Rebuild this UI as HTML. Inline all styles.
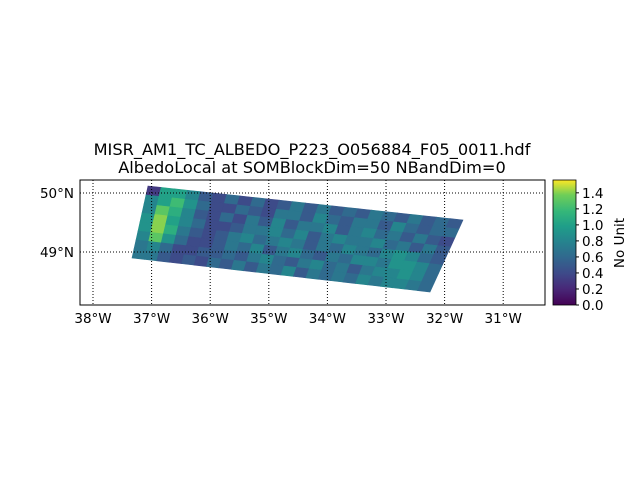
<!DOCTYPE html>
<html><head><meta charset="utf-8"><style>
body{margin:0;background:#fff}
svg text{font-family:"DejaVu Sans","Liberation Sans",sans-serif;fill:#000}
</style></head><body>
<svg width="640" height="480" viewBox="0 0 640 480">
<rect width="640" height="480" fill="#fff"/>
<text x="312" y="155" font-size="16.2" text-anchor="middle">MISR_AM1_TC_ALBEDO_P223_O056884_F05_0011.hdf</text>
<text x="312" y="173" font-size="16.2" text-anchor="middle">AlbedoLocal at SOMBlockDim=50 NBandDim=0</text>
<g id="swath"></g>
<g id="grid"></g>
<rect x="80" y="180" width="465" height="125" fill="none" stroke="#000" stroke-width="1"/>
<g id="ticks"></g>
<defs><linearGradient id="vir" x1="0" y1="1" x2="0" y2="0">
<stop offset="0" stop-color="#440154"/><stop offset="0.13" stop-color="#482878"/><stop offset="0.25" stop-color="#3e4989"/><stop offset="0.38" stop-color="#31688e"/><stop offset="0.5" stop-color="#26828e"/><stop offset="0.63" stop-color="#1f9e89"/><stop offset="0.75" stop-color="#35b779"/><stop offset="0.88" stop-color="#6ece58"/><stop offset="1" stop-color="#fde725"/></linearGradient></defs>
<rect x="553" y="180" width="23" height="125" fill="url(#vir)" stroke="#000" stroke-width="0.8"/>
<g id="cbticks"></g>
<text transform="translate(624,243) rotate(-90)" font-size="13.5" text-anchor="middle">No Unit</text>
</svg>
<script>
const lonTicks=[-38,-37,-36,-35,-34,-33,-32,-31];
const latTicks=[50,49];
const cbTicks=[0,0.2,0.4,0.6,0.8,1.0,1.2,1.4];
const cbMax=1.56;
const vals=[
[0.3,1.0,1.0,0.8,0.5,0.4,0.6,0.4,0.6,0.4,0.5,0.7,0.5,0.7,0.5,0.6,0.5,0.7,0.6,0.5,0.7,0.5,0.6,0.5],
[0.8,1.0,1.2,0.9,0.6,0.4,0.4,0.6,0.5,0.4,0.7,0.7,0.5,0.8,0.6,0.5,0.7,0.7,0.5,0.8,0.6,0.5,0.6,0.6],
[0.8,1.3,1.1,0.8,0.5,0.4,0.6,0.4,0.7,0.5,0.8,0.5,0.7,0.7,0.8,0.5,0.7,0.8,0.6,0.7,0.5,0.7,0.5,0.4],
[0.9,1.4,1.0,0.8,0.6,0.4,0.4,0.5,0.7,0.7,0.8,0.6,0.8,0.5,0.7,0.8,0.7,0.7,0.8,0.6,0.7,0.5,0.7,0.5],
[0.9,1.4,1.1,0.7,0.5,0.4,0.5,0.7,0.8,0.6,0.7,0.8,0.7,0.5,0.7,0.6,0.8,0.7,0.6,0.8,0.9,0.8,0.6,0.5],
[0.8,1.3,0.9,0.6,0.4,0.4,0.5,0.7,0.6,0.8,0.5,0.7,0.8,0.6,0.5,0.7,0.6,0.8,0.8,0.7,0.9,0.9,0.8,0.6],
[0.7,0.8,0.6,0.4,0.4,0.5,0.5,0.6,0.5,0.7,0.8,0.6,0.5,0.7,0.8,0.6,0.7,0.5,0.7,0.8,0.8,0.9,0.8,0.6],
[0.7,0.7,0.5,0.4,0.5,0.4,0.6,0.5,0.7,0.5,0.7,0.6,0.8,0.5,0.7,0.6,0.7,0.6,0.8,0.7,0.8,0.8,0.7,0.6]];
const NS='http://www.w3.org/2000/svg';
const xLon=l=>93+(l+38)*58.6;
const yLat=l=>193+(50-l)*59;
const cbY=v=>305-v/cbMax*125;
const C=[[68,1,84],[72,40,120],[62,73,137],[49,104,142],[38,130,142],[31,158,137],[53,183,121],[110,206,88],[253,231,37]];
function vir(t){t=Math.max(0,Math.min(1,t))*8;const i=Math.min(7,Math.floor(t)),f=t-i;
return 'rgb('+C[i].map((c,k)=>Math.round(c+(C[i+1][k]-c)*f)).join(',')+')';}
const TL=[148,186],TR=[463,220],BL=[132,258],BR=[430,292];
function P(u,v){const a=[TL[0]+(TR[0]-TL[0])*u,TL[1]+(TR[1]-TL[1])*u],b=[BL[0]+(BR[0]-BL[0])*u,BL[1]+(BR[1]-BL[1])*u];return [a[0]+(b[0]-a[0])*v,a[1]+(b[1]-a[1])*v];}
const sw=document.getElementById('swath');
const R=vals.length,K=vals[0].length;
vals.forEach((row,r)=>row.forEach((v,c)=>{
const p=[P(c/K,r/R),P((c+1)/K,r/R),P((c+1)/K,(r+1)/R),P(c/K,(r+1)/R)];
const e=document.createElementNS(NS,'polygon');
e.setAttribute('points',p.map(q=>q.join(',')).join(' '));
e.setAttribute('fill',vir(v/cbMax));e.setAttribute('stroke',vir(v/cbMax));e.setAttribute('stroke-width','0.6');


sw.appendChild(e);}));
const g=document.getElementById('grid'),tk=document.getElementById('ticks');
function line(par,x1,y1,x2,y2,dash){const l=document.createElementNS(NS,'line');
l.setAttribute('x1',x1);l.setAttribute('y1',y1);l.setAttribute('x2',x2);l.setAttribute('y2',y2);
l.setAttribute('stroke','#000');l.setAttribute('stroke-width','1');if(dash)l.setAttribute('stroke-dasharray','1,2');


par.appendChild(l);}
function txt(par,x,y,s,anchor,name){const t=document.createElementNS(NS,'text');
t.setAttribute('x',x);t.setAttribute('y',y);t.setAttribute('font-size','13.5');t.setAttribute('text-anchor',anchor);t.textContent=s;


par.appendChild(t);}
lonTicks.forEach(l=>{const x=xLon(l);line(g,x,180,x,305,true);txt(tk,x,323,Math.abs(l)+'°W','middle','x-tick-label');});
latTicks.forEach(l=>{const y=yLat(l);line(g,80,y,545,y,true);txt(tk,74,y+5,l+'°N','end','y-tick-label');});
const cb=document.getElementById('cbticks');
cbTicks.forEach(v=>{const y=cbY(v);line(cb,576,y,579,y,false);txt(cb,582,y+5,v.toFixed(1),'start','colorbar-tick-label');});
</script>
</body></html>
